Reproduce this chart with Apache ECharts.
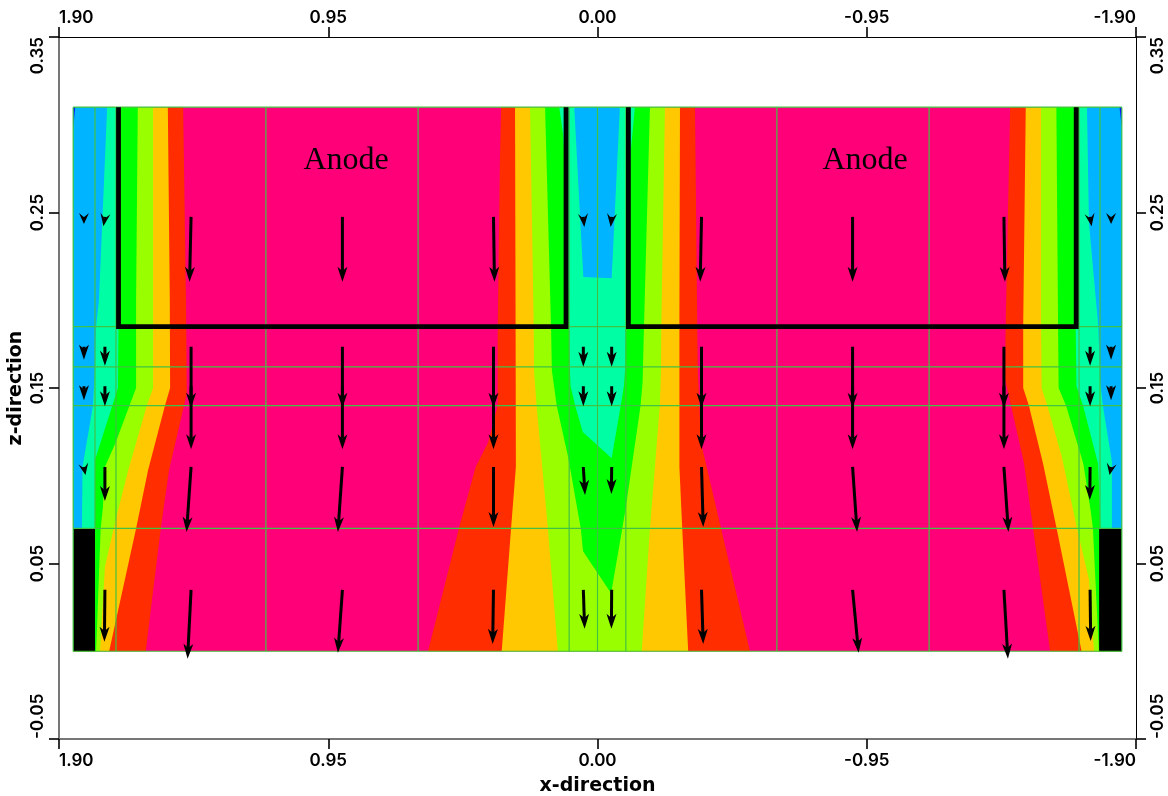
<!DOCTYPE html>
<html><head><meta charset="utf-8">
<style>html,body{margin:0;padding:0;background:#fff}#c{width:1168px;height:796px}</style>
<script src="https://cdn.jsdelivr.net/npm/echarts@6/dist/echarts.min.js"></script>
</head><body><div id="c"></div>
<script>
// ---- axes
const xTicks = [1.9, 0.95, 0, -0.95, -1.9];
const zTicks = [-0.05, 0.05, 0.15, 0.25, 0.35];
// ---- mesh
const meshX = [1.85, 1.699, 1.17, 0.633, 0.1, 0, -0.1, -0.633, -1.17, -1.699, -1.85];
const meshXShort = [1.773, -1.773];
const meshZ = [0, 0.07, 0.14, 0.162, 0.185, 0.31];
const domainLeft = 1.85, domainRight = -1.85, domainTop = 0.31, domainBottom = 0;
// ---- contour boundaries, [x, z]
const redLeft = [[1.462,.31],[1.452,.2],[1.449,.147],[1.459,.14],[1.512,.103],[1.541,.07],[1.594,0]];
const redCentreL = [[.34,.31],[.344,.282],[.352,.185],[.352,.14],[.386,.119],[.43,.105],[.489,.07],[.598,0]];
const redCentreR = [[-.344,.31],[-.352,.185],[-.354,.16],[-.365,.119],[-.436,.07],[-.538,0]];
const redRight = [[-1.456,.31],[-1.44,.185],[-1.438,.155],[-1.459,.14],[-1.505,.107],[-1.537,.07],[-1.597,0]];

const orangeLeft = [[1.516,.31],[1.509,.2],[1.508,.15],[1.526,.14],[1.586,.103],[1.628,.07],[1.723,0]];
const orangeCentreL = [[.291,.31],[.289,.185],[.288,.105],[.305,.07],[.338,0]];
const orangeCentreR = [[-.291,.31],[-.289,.185],[-.289,.105],[-.299,.07],[-.32,0]];
const orangeRight = [[-1.511,.31],[-1.502,.185],[-1.502,.15],[-1.522,.14],[-1.572,.107],[-1.62,.07],[-1.708,0]];

const limeLeft = [[1.568,.31],[1.568,.15],[1.59,.14],[1.656,.103],[1.7,.075],[1.738,.048],[1.755,0]];
const limeCentreL = [[.238,.31],[.225,.185],[.224,.16],[.215,.14],[.175,.07],[.14,0]];
const limeCentreR = [[-.238,.31],[-.225,.185],[-.224,.16],[-.22,.14],[-.185,.07],[-.156,0]];
const limeRight = [[-1.565,.31],[-1.565,.185],[-1.567,.15],[-1.587,.14],[-1.638,.111],[-1.692,.07],[-1.734,.041],[-1.752,0]];

const greenLeft = [[1.622,.31],[1.628,.2],[1.628,.15],[1.7,.119],[1.738,.105],[1.745,.082],[1.753,.07],[1.769,0]];
const greenCentre = [[.185,.31],[.164,.185],[.161,.16],[.144,.14],[.104,.111],[.059,.07],[.051,.057],[-.048,.033],[-.0875,.07],[-.1,.082],[-.152,.14],[-.159,.153],[-.164,.185],[-.185,.31]];
const greenRight = [[-1.619,.31],[-1.625,.185],[-1.627,.15],[-1.653,.14],[-1.714,.107],[-1.741,.079],[-1.748,.07],[-1.769,0]];

const aquaLeft = [[1.685,.31],[1.69,.185],[1.692,.15],[1.773,.109],[1.773,.07]];
const aquaCentre = [[.135,.31],[.121,.294],[.108,.257],[.101,.185],[.097,.16],[.095,.151],[.079,.14],[.052,.125],[-.05,.11],[-.082,.14],[-.093,.151],[-.097,.16],[-.1,.185],[-.108,.257],[-.118,.286],[-.132,.31]];
const aquaRight = [[-1.699,.31],[-1.687,.185],[-1.69,.151],[-1.713,.14],[-1.766,.107],[-1.775,.07]];

const blueLeft = [[1.73,.31],[1.759,.2],[1.769,.185],[1.773,.162],[1.78,.14],[1.817,.105],[1.819,.07]];
const blueCentre = [[.082,.31],[-.079,.31],[-.05,.2125],[.05,.2132]];
const blueRight = [[-1.727,.31],[-1.734,.244],[-1.767,.185],[-1.773,.155],[-1.783,.14],[-1.815,.108],[-1.815,.07]];

const darkBlueLeft = [[1.85,.31],[1.843,.31],[1.85,.298]];
const darkBlueRight = [[-1.85,.31],[-1.842,.31],[-1.85,.298]];
const blackLeft = [[1.85,.07],[1.773,.07],[1.773,0],[1.85,0]];
const blackRight = [[-1.85,.07],[-1.77,.07],[-1.77,0],[-1.85,0]];

const anodeLeft = [[1.69,.31],[1.69,.185],[.111,.185],[.111,.31]];
const anodeRight = [[-.109,.31],[-.109,.185],[-1.689,.185],[-1.689,.31]];
const anodeText = ['Anode','Anode'];
const anodeTextX = [.887,-.944];
const anodeTextZ = [.2702,.2702];

// ---- arrows: cell centres and vector components (x, z) per row
const arrowCols = [1.812,1.738,1.434,.9,.367,.05,-.05,-.367,-.9,-1.434,-1.738,-1.812];
const arrowRows = [.2475,.1735,.151,.105,.035];
const arrowU1 = [0,.0053,.0053,0,-.0035,-.0035,.0035,.0046,0,-.0035,-.0053,0];
const arrowW1 = [-.004,-.0054,-.037,-.037,-.037,-.0057,-.0057,-.037,-.037,-.037,-.0054,-.004];
const arrowU2 = [0,0,0,0,0,0,0,0,0,0,0,0];
const arrowW2 = [-.0074,-.0108,-.0348,-.0348,-.0348,-.0114,-.0114,-.0348,-.0348,-.0348,-.0108,-.0074];
const arrowU3 = [0,0,0,0,0,0,0,0,0,0,0,0];
const arrowW3 = [-.008,-.0114,-.0359,-.0359,-.0359,-.0114,-.0114,-.0359,-.0359,-.0359,-.0114,-.008];
const arrowU4 = [-.0053,0,.0159,.0159,0,-.006,.001,-.006,-.0159,-.0159,.001,.0053];
const arrowW4 = [-.0046,-.0194,-.037,-.037,-.0342,-.016,-.0154,-.0342,-.037,-.037,-.0188,-.0046];
const arrowU5 = [null,.0018,.0123,.0159,.0028,-.0046,.001,-.006,-.0212,-.0141,-.0021,null];
const arrowW5 = [null,-.0296,-.0393,-.0359,-.0308,-.0222,-.0222,-.0308,-.0359,-.0393,-.0291,null];

const colPink='#ff0078', colRed='#ff2d00', colOrange='#ffc800', colLime='#99ff00', colGreen='#00ff00', colAqua='#00ffa5', colBlue='#00b4ff', colDark='#1010ff', colMesh='#42c242';

// ---- polygons
const closeL = (b) => b.concat([[domainLeft,b[b.length-1][1]],[domainLeft,domainTop]]);
const closeR = (b) => b.concat([[domainRight,b[b.length-1][1]],[domainRight,domainTop]]);
const band = (l,r) => l.concat(r.slice().reverse());
const layers = [
  {color:colPink,polys:[[[domainLeft,domainTop],[domainRight,domainTop],[domainRight,domainBottom],[domainLeft,domainBottom]]]},
  {color:colRed,polys:[closeL(redLeft),band(redCentreL,redCentreR),closeR(redRight)]},
  {color:colOrange,polys:[closeL(orangeLeft),band(orangeCentreL,orangeCentreR),closeR(orangeRight)]},
  {color:colLime,polys:[closeL(limeLeft),band(limeCentreL,limeCentreR),closeR(limeRight)]},
  {color:colGreen,polys:[closeL(greenLeft),greenCentre,closeR(greenRight)]},
  {color:colAqua,polys:[closeL(aquaLeft),aquaCentre,closeR(aquaRight)]},
  {color:colBlue,polys:[closeL(blueLeft),blueCentre,closeR(blueRight)]},
  {color:colDark,polys:[darkBlueLeft,darkBlueRight]},
  {color:'#000000',polys:[blackLeft,blackRight]}
];
const polySeries = layers.map(l=>({
  type:'custom',coordinateSystem:'cartesian2d',silent:true,clip:false,z:2,
  data:l.polys.map((_,i)=>[i]),
  renderItem:(p,api)=>({type:'polygon',shape:{points:l.polys[p.dataIndex].map(q=>api.coord(q))},style:{fill:l.color}})
}));

const meshLines=[];
meshX.forEach(x=>meshLines.push([[x,domainBottom],[x,domainTop]]));
meshXShort.forEach(x=>meshLines.push([[x,.07],[x,domainTop]]));
meshZ.forEach(z=>meshLines.push([[domainLeft,z],[domainRight,z]]));
const meshSeries={type:'custom',coordinateSystem:'cartesian2d',silent:true,clip:false,z:3,
  data:meshLines.map((_,i)=>[i]),
  renderItem:(p,api)=>{const s=meshLines[p.dataIndex];const a=api.coord(s[0]),b=api.coord(s[1]);
    return {type:'line',shape:{x1:a[0],y1:a[1],x2:b[0],y2:b[1]},style:{stroke:colMesh,lineWidth:1.2}};}};

const anodes=[anodeLeft,anodeRight];
const anodeSeries={type:'custom',coordinateSystem:'cartesian2d',silent:true,clip:false,z:4,
  data:anodes.map((_,i)=>[i]),
  renderItem:(p,api)=>({type:'polyline',shape:{points:anodes[p.dataIndex].map(q=>api.coord(q))},style:{stroke:'#000',lineWidth:4.8,fill:null,lineJoin:'miter'}})};

const arrows=[];
[[arrowU1,arrowW1],[arrowU2,arrowW2],[arrowU3,arrowW3],[arrowU4,arrowW4],[arrowU5,arrowW5]].forEach((r,ri)=>{
  arrowCols.forEach((x,ci)=>{ if(r[0][ci]===null) return;
    arrows.push([x,arrowRows[ri],x+r[0][ci],arrowRows[ri]+r[1][ci]]);});
});
const arrowSeries={type:'custom',coordinateSystem:'cartesian2d',silent:true,clip:false,z:5,
  data:arrows,
  renderItem:(p,api)=>{
    const a=api.coord([api.value(0),api.value(1)]),b=api.coord([api.value(2),api.value(3)]);
    const dx=b[0]-a[0],dy=b[1]-a[1],len=Math.hypot(dx,dy),ux=dx/len,uy=dy/len,nx=-uy,ny=ux;
    const head=Math.max(11,Math.min(15,len+3.5)),notch=head*(len<12?0.6:0.72),hw=5;
    const pts=[b,[b[0]-ux*head+nx*hw,b[1]-uy*head+ny*hw],[b[0]-ux*notch,b[1]-uy*notch],[b[0]-ux*head-nx*hw,b[1]-uy*head-ny*hw]];
    const ch=[{type:'polygon',shape:{points:pts},style:{fill:'#000'}}];
    if(len>notch) ch.push({type:'line',shape:{x1:a[0],y1:a[1],x2:b[0]-ux*notch,y2:b[1]-uy*notch},style:{stroke:'#000',lineWidth:3}});
    return {type:'group',children:ch};
  }};

const textSeries={type:'custom',coordinateSystem:'cartesian2d',silent:true,clip:false,z:6,
  data:anodeText.map((_,i)=>[anodeTextX[i],anodeTextZ[i]]),
  renderItem:(p,api)=>{const c=api.coord([api.value(0),api.value(1)]);
    return {type:'text',x:c[0],y:c[1],style:{text:anodeText[p.dataIndex],font:'32px "Liberation Serif"',fill:'#000',textAlign:'center',textVerticalAlign:'bottom'}};}};

const labelFont={fontFamily:'Inter',fontSize:17,fontWeight:600,color:'#000'};
const fmt=v=>Number(v).toFixed(2);
const mkX=(pos,line)=>({type:'value',position:pos,inverse:true,min:-1.9,max:1.9,splitLine:{show:false},
  axisLine:{onZero:false,lineStyle:line},axisTick:{length:10,inside:false,customValues:xTicks,lineStyle:{color:'#000',width:1.6}},
  axisLabel:Object.assign({customValues:xTicks,formatter:fmt,margin:pos==='top'?11:13,alignMinLabel:'left',alignMaxLabel:'right'},labelFont)});
const mkZ=(pos,line)=>({type:'value',position:pos,min:-0.05,max:0.35,splitLine:{show:false},
  axisLine:{onZero:false,lineStyle:line},axisTick:{length:10,inside:false,customValues:zTicks,lineStyle:{color:'#000',width:1.6}},
  axisLabel:Object.assign({customValues:zTicks,formatter:fmt,rotate:90,margin:13,alignMinLabel:'left',alignMaxLabel:'right'},labelFont)});

const nameFont={fontFamily:'DejaVu Sans',fontSize:19,fontWeight:'bold',color:'#000'};
const xB=mkX('bottom',{color:'#777',width:2});
xB.name='x-direction';xB.nameLocation='middle';xB.nameGap=38;xB.nameMoveOverlap=false;xB.nameTextStyle=nameFont;
const zL=mkZ('left',{color:'#777',width:2});
zL.name='z-direction';zL.nameLocation='middle';zL.nameGap=33;zL.nameMoveOverlap=false;zL.nameRotate=90;zL.nameTextStyle=nameFont;

const chart=echarts.init(document.getElementById('c'),null,{renderer:'canvas'});
chart.setOption({
  animation:false,backgroundColor:'#fff',
  grid:{left:59,right:32,top:37,bottom:57,containLabel:false,outerBoundsMode:'none'},
  xAxis:[xB,mkX('top',{color:'#000',width:1})],
  yAxis:[zL,mkZ('right',{color:'#000',width:1})],
  series:polySeries.concat([meshSeries,anodeSeries,arrowSeries,textSeries])
});
</script></body></html>
